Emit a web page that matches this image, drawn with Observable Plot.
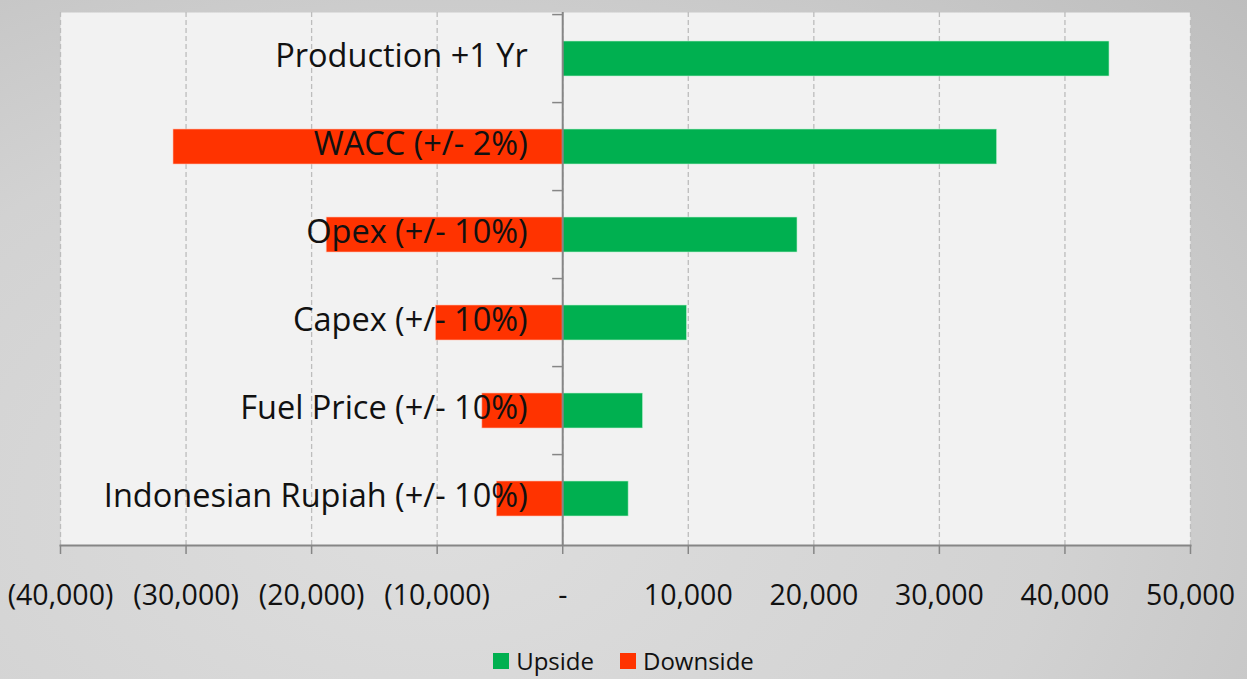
<!DOCTYPE html>
<html>
<head>
<meta charset="utf-8">
<script src="https://cdn.jsdelivr.net/npm/d3@7"></script>
<script src="https://cdn.jsdelivr.net/npm/@observablehq/plot@0.6"></script>
<style>
  html, body { margin: 0; padding: 0; }
  body {
    width: 1247px; height: 679px; overflow: hidden;
    background: radial-gradient(ellipse 90% 110% at 35% 75%, #dedede 0%, #d2d2d2 55%, #bdbdbd 100%);
    font-family: "Open Sans", sans-serif;
    position: relative;
  }
  #chart { position: absolute; left: 0; top: 0; }
  #legend {
    position: absolute; left: 0; top: 646px; width: 1247px; line-height: 30px;
    display: flex; justify-content: center; align-items: center; gap: 0;
    font-size: 24px; color: #111; font-family: "Open Sans", sans-serif;
  }
  .sw { display: inline-block; width: 16px; height: 16px; margin-right: 7px; }
  .item { display: inline-flex; align-items: center; margin: 0 13px; }
</style>
</head>
<body>
<div id="chart"></div>
<div id="legend"></div>
<script>
const categories = [
  "Production +1 Yr",
  "WACC (+/- 2%)",
  "Opex (+/- 10%)",
  "Capex (+/- 10%)",
  "Fuel Price (+/- 10%)",
  "Indonesian Rupiah (+/- 10%)"
];
const upside   = [43550, 34600, 18700, 9900, 6400, 5250];
const downside = [0, -31000, -18800, -10100, -6400, -5250];
const xTicks = [-40000, -30000, -20000, -10000, 0, 10000, 20000, 30000, 40000, 50000];
const seriesNames = ["Upside", "Downside"];
const seriesColors = ["#00b050", "#ff3300"];

const rows = categories.map((c, i) => ({category: c, up: upside[i], down: downside[i]}));
const fmt = d3.format(",");
const tickFormat = d => d < 0 ? `(${fmt(-d)})` : d === 0 ? "-" : fmt(d);

const W = 1247, H = 620, mT = 12, mB = 75;
const step = (H - mT - mB) / categories.length;

const chart = Plot.plot({
  width: W,
  height: H,
  marginLeft: 60,
  marginRight: 57,
  marginTop: mT,
  marginBottom: mB,
  style: {background: "transparent", fontFamily: "Open Sans, sans-serif", color: "#111"},
  x: {domain: [-40000, 50000]},
  y: {domain: categories, paddingInner: 0.6, paddingOuter: 0.3, axis: null},
  marks: [
    Plot.frame({fill: "#f2f2f2", stroke: null}),
    Plot.gridX({ticks: xTicks, stroke: "#bdbdbd", strokeOpacity: 1, strokeDasharray: "5,3", strokeWidth: 1.3}),
    Plot.barX(rows, {y: "category", x1: 0, x2: "up", fill: seriesColors[0], stroke: "#bff0d0", strokeWidth: 0.6}),
    Plot.barX(rows.filter(d => d.down < 0), {y: "category", x1: "down", x2: 0, fill: seriesColors[1], stroke: "#ffc0b0", strokeWidth: 0.6}),
    Plot.ruleY(categories, {y: d => d, x1: -800, x2: 0, dy: -step / 2, stroke: "#868686", strokeWidth: 1.5}),
    Plot.ruleX([0], {stroke: "#868686", strokeWidth: 2}),
    Plot.text(categories, {x: 0, y: d => d, text: d => d, textAnchor: "end", dx: -35, dy: -2, fontSize: 32.5, fill: "#111"}),
    Plot.frame({anchor: "bottom", stroke: "#868686", strokeWidth: 2}),
    Plot.axisX({ticks: xTicks, tickFormat, tickSize: 9, tickPadding: 30, fontSize: 28.5, stroke: "#868686", strokeWidth: 1.5, fill: "#111"})
  ]
});
document.getElementById("chart").appendChild(chart);

const legend = document.getElementById("legend");
seriesNames.forEach((n, i) => {
  const item = document.createElement("span");
  item.className = "item";
  const sw = document.createElement("span");
  sw.className = "sw";
  sw.style.background = seriesColors[i];
  const t = document.createElement("span");
  t.textContent = n;
  item.appendChild(sw);
  item.appendChild(t);
  legend.appendChild(item);
});
</script>
</body>
</html>
